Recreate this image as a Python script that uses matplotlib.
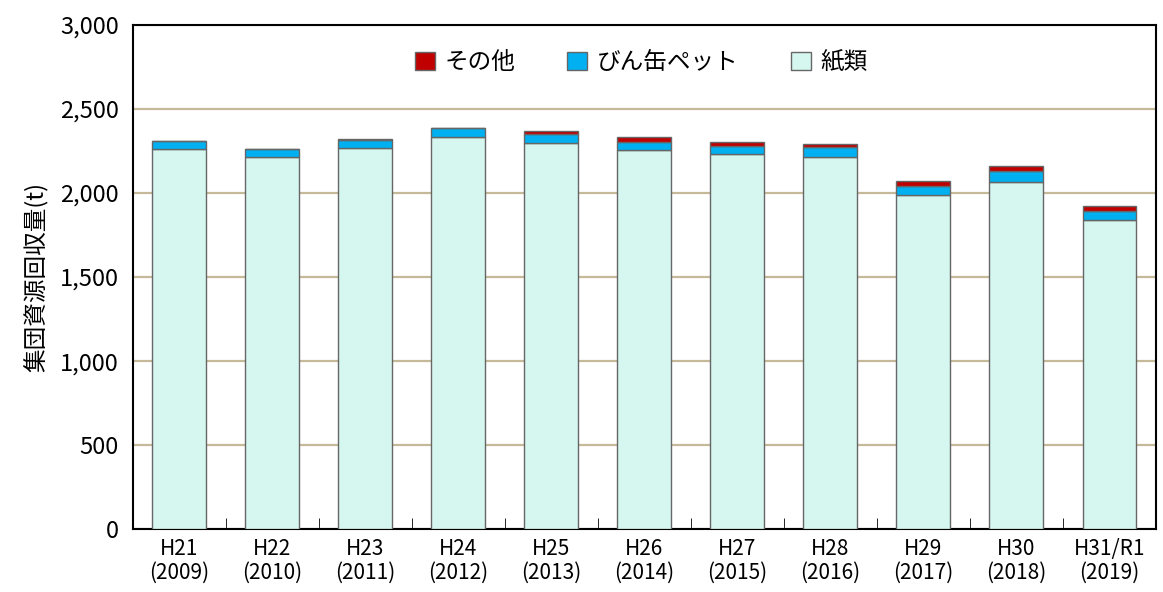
import matplotlib.pyplot as plt
import numpy as np
from matplotlib.ticker import FuncFormatter, FixedLocator

plt.rcParams['font.family'] = ['Noto Sans CJK JP', 'DejaVu Sans']

years = ['H21\n(2009)', 'H22\n(2010)', 'H23\n(2011)', 'H24\n(2012)', 'H25\n(2013)',
         'H26\n(2014)', 'H27\n(2015)', 'H28\n(2016)', 'H29\n(2017)', 'H30\n(2018)',
         'H31/R1\n(2019)']
paper = [2262, 2214, 2266, 2333, 2298, 2254, 2232, 2216, 1988, 2064, 1839]
bottles = [46, 45, 50, 51, 51, 51, 50, 56, 55, 65, 52]
other = [3, 5, 3, 3, 22, 28, 21, 21, 26, 33, 30]

paper = np.array(paper)
bottles = np.array(bottles)
other = np.array(other)
x = np.arange(len(years))

fig = plt.figure(figsize=(11.63, 5.92), dpi=100)
ax = fig.add_axes([0.114, 0.106, 0.880, 0.852])

w = 0.58
ec = '#666666'
ax.bar(x, paper, w, color='#D5F7F0', edgecolor=ec, linewidth=1, label='紙類', zorder=3)
ax.bar(x, bottles, w, bottom=paper, color='#00B0F0', edgecolor=ec, linewidth=1,
       label='びん缶ペット', zorder=3)
ax.bar(x, other, w, bottom=paper + bottles, color='#C00000', edgecolor=ec, linewidth=1,
       label='その他', zorder=3)

ax.set_xlim(-0.5, len(years) - 0.5)
ax.set_ylim(0, 3000)
ax.set_yticks(np.arange(0, 3001, 500))
ax.yaxis.set_major_formatter(FuncFormatter(lambda v, p: f'{int(v):,}'))
ax.grid(axis='y', color='#C4B998', linewidth=1.6, zorder=0)
ax.tick_params(axis='y', length=0, labelsize=17, pad=10)

ax.set_xticks(x)
ax.set_xticklabels(years, fontsize=15, linespacing=1.1)
ax.tick_params(axis='x', which='major', length=0, pad=6)
ax.xaxis.set_minor_locator(FixedLocator(np.arange(0.5, len(years) - 1, 1)))
ax.tick_params(axis='x', which='minor', direction='in', length=8, color='black')

for s in ax.spines.values():
    s.set_linewidth(1.5)
    s.set_color('black')

ax.set_ylabel('集団資源回収量(t)', fontsize=17, labelpad=8)

h, l = ax.get_legend_handles_labels()
ax.legend(h[::-1], l[::-1], loc='upper center', bbox_to_anchor=(0.497, 0.99), ncol=3,
          frameon=False, fontsize=17, handlelength=0.85, handleheight=0.85,
          columnspacing=2.2, handletextpad=0.4)

plt.savefig('out.png', dpi=100)
